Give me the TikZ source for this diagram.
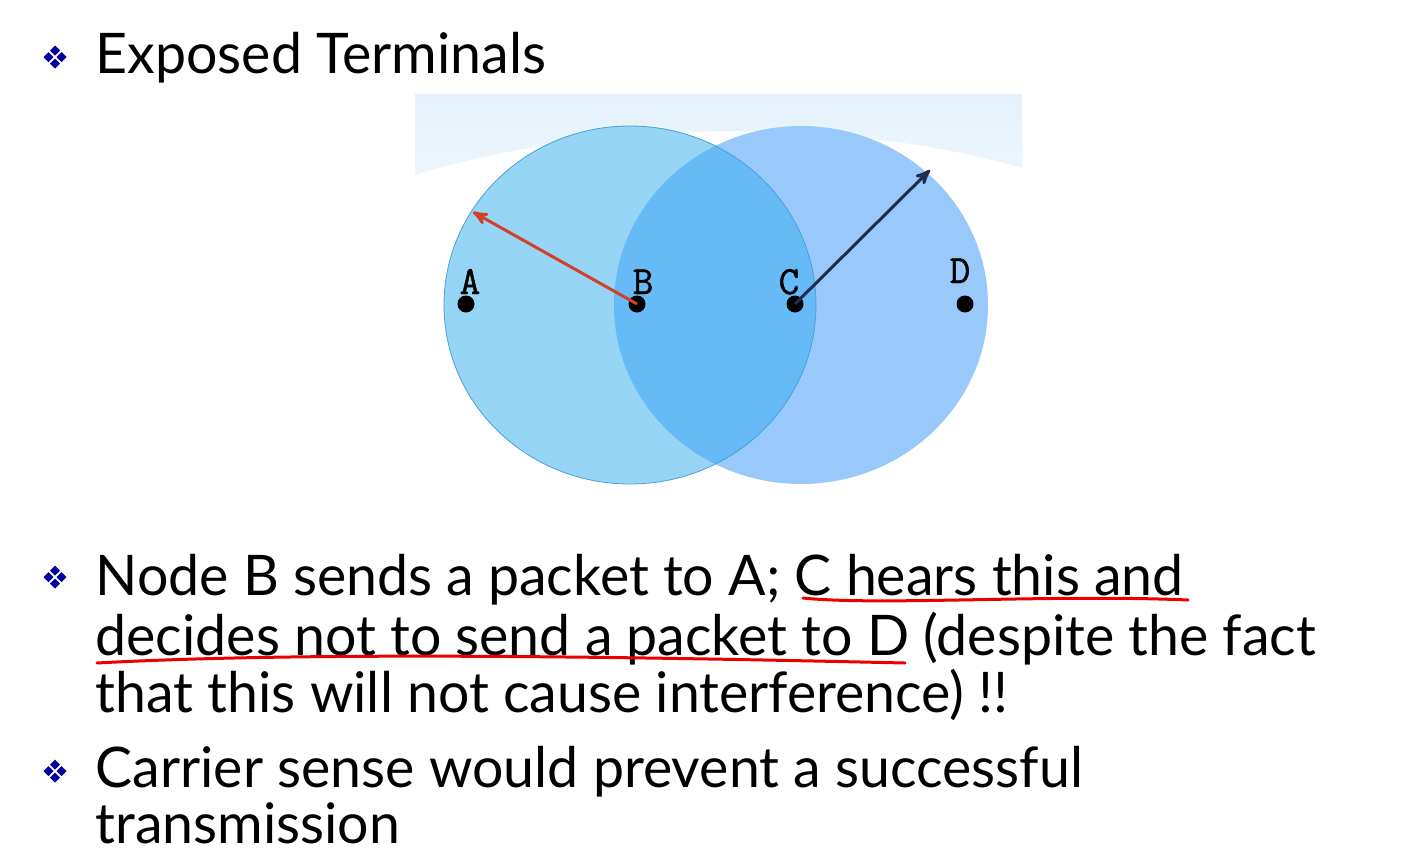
\documentclass[tikz,border=0pt]{standalone}
\usepackage{fontspec}
\setmainfont{Lato}[FakeStretch=0.99]
\newfontfamily\labelfont{Latin Modern Mono}[FakeBold=1.2]
\usepackage{xcolor}
\usetikzlibrary{arrows,positioning}

\definecolor{navy}{RGB}{0,0,160}
\definecolor{leftfill}{RGB}{150,213,245}
\definecolor{leftline}{RGB}{72,160,214}
\definecolor{rightfill}{RGB}{152,201,250}
\definecolor{overfill}{RGB}{102,186,245}
\definecolor{bandtop}{RGB}{228,241,251}
\definecolor{bandbot}{RGB}{238,246,252}
\definecolor{sendred}{RGB}{208,66,40}
\definecolor{senddark}{RGB}{30,44,80}
\definecolor{markred}{RGB}{235,0,0}

\newcommand{\stn}[1]{{\labelfont\fontsize{20}{22}\selectfont #1}}

\tikzset{diam/.pic={
  \foreach \dx/\dy in {0/-6.5,0/6.5,-6.5/0,6.5/0}
    \fill[navy] (\dx,\dy+5) -- (\dx+5,\dy) -- (\dx,\dy-5) -- (\dx-5,\dy) -- cycle;
}}

\begin{document}
\begin{tikzpicture}[x=0.5pt,y=-0.5pt,>=stealth',semithick]
			\tikzstyle{txt}=[inner sep=0pt,anchor=base west,font=\fontsize{28}{34}\selectfont]
			\tikzstyle{dot}=[circle,fill=black,inner sep=0pt,minimum size=8.5pt]
			\tikzstyle{lbl}=[inner sep=0pt,anchor=base]
			\tikzstyle{uline}=[draw=markred,line width=1.5pt,line cap=round]
			\useasboundingbox (0,0) rectangle (1419,862);
			% light band behind the ranges
			\shade[top color=bandtop,bottom color=bandbot]
			  (415,94) -- (1022,94) -- (1022,168) .. controls (850,118) and (600,118) .. (415,175) -- cycle;
			% the two ranges
			\fill[leftfill] (630,305) ellipse [x radius=186,y radius=179];
			\fill[rightfill] (801,305) ellipse [x radius=187,y radius=179];
			\begin{scope}
			  \clip (630,305) ellipse [x radius=186,y radius=179];
			  \fill[overfill] (801,305) ellipse [x radius=187,y radius=179];
			\end{scope}
			\draw[leftline,thin] (630,305) ellipse [x radius=186,y radius=179];
			% stations
			\node[dot] (A) at (466,304) {};
			\node[dot] (B) at (637,304) {};
			\node[dot] (C) at (795,304) {};
			\node[dot] (D) at (965,304) {};
			\node[lbl] (la) at (470,294) {\stn{A}};
			\node[lbl] (lb) at (643,294) {\stn{B}};
			\node[lbl] (lc) at (789,294) {\stn{C}};
			\node[lbl] (ld) at (960,283) {\stn{D}};
			\coordinate (ta) at (473,212);
			\coordinate (td) at (930,170);
			\draw[->,sendred,line width=1.5pt] (B.center) -- (ta);
			\draw[->,senddark,line width=1.5pt] (C.center) -- (td);
			% bullets and text
			\pic at (55,57) {diam};
			\pic at (55,577) {diam};
			\pic at (55,771) {diam};
			\node[txt] (title) at (95,73) {Exposed Terminals};
			\node[txt] (l1) at (95,595) {Node B sends a packet to A; C hears this and};
			\node[txt] (l2) at (95,655) {decides not to send a packet to D (despite the fact};
			\node[txt] (l3) at (95,712) {that this will not cause interference) !!};
			\node[txt] (l4) at (95,787) {Carrier sense would prevent a successful};
			\node[txt] (l5) at (95,843) {transmission};
			% red marks
			\coordinate (u1a) at (803,598);
			\coordinate (u1b) at (1188,600);
			\coordinate (u2a) at (97,663);
			\coordinate (u2b) at (905,663);
			\draw[uline] (u1a) .. controls (880,606) and (1050,594) .. (u1b);
			\draw[uline] (u2a) .. controls (300,652) and (600,656) .. (u2b);
\end{tikzpicture}
\end{document}
